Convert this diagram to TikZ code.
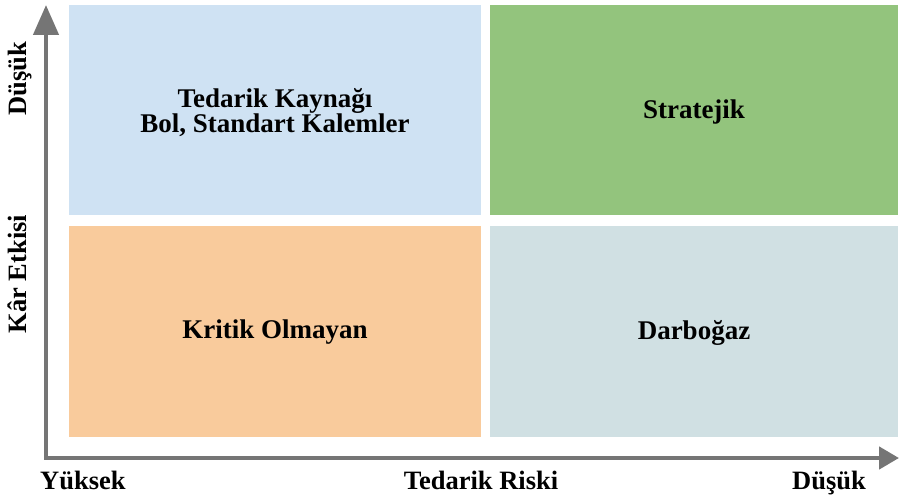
\documentclass[tikz,border=0pt]{standalone}
\usepackage{fontspec}
\setmainfont{Liberation Serif}
\usetikzlibrary{arrows.meta}
\definecolor{qblue}{HTML}{CFE2F3}
\definecolor{qgreen}{HTML}{93C47D}
\definecolor{qorange}{HTML}{F9CB9C}
\definecolor{qcyan}{HTML}{D0E0E3}
\definecolor{axisgrey}{HTML}{757575}
\tikzset{
  quad/.style={inner sep=0pt, outer sep=0pt, draw=none, minimum width=#1},
  quadtext/.style={inner sep=0pt, align=center,
    font=\fontsize{27}{22.5}\selectfont\bfseries},
  axlabel/.style={inner sep=0pt, font=\fontsize{26.5}{23}\selectfont\bfseries},
  axisline/.style={draw=axisgrey, line width=4.5pt, line join=miter}
}
\begin{document}
\begin{tikzpicture}[x=1pt,y=-1pt]
\useasboundingbox (0,0) rectangle (899,495);
\fill[white] (0,0) rectangle (899,495);
\node[quad=412pt, fill=qblue, minimum height=210pt] (tl) at (275,110) {};
\node[quad=408pt, fill=qgreen, minimum height=210pt] (tr) at (694,110) {};
\node[quad=412pt, fill=qorange, minimum height=211pt] (bl) at (275,331.5) {};
\node[quad=408pt, fill=qcyan, minimum height=211pt] (br) at (694,331.5) {};
\node[quadtext] (tltext) at ([yshift=-2.5pt]tl.center) {Tedarik Kaynağı\\Bol, Standart Kalemler};
\node[quadtext] (trtext) at ([yshift=-2.5pt]tr.center) {Stratejik};
\node[quadtext] (bltext) at ([yshift=-1pt]bl.center) {Kritik Olmayan};
\node[quadtext] (brtext) at ([yshift=-1pt]br.center) {Darboğaz};
\coordinate (ytop) at (46,5);
\coordinate (origin) at (46,458);
\coordinate (xend) at (899,458);
\draw[axisline, {Triangle[length=30pt,width=25pt]}-{Triangle[length=20pt,width=22pt]}] (ytop) -- (origin) -- (xend);
\node[axlabel, anchor=base west] (yuksek) at (40,489) {Yüksek};
\node[axlabel, anchor=base] (risk) at (481,489) {Tedarik Riski};
\node[axlabel, anchor=base east] (dusukx) at (866,489) {Düşük};
\node[axlabel, anchor=base, rotate=90] (dusuky) at (27,79) {Düşük};
\node[axlabel, anchor=base, rotate=90] (kar) at (27,274) {Kâr Etkisi};
\end{tikzpicture}
\end{document}
